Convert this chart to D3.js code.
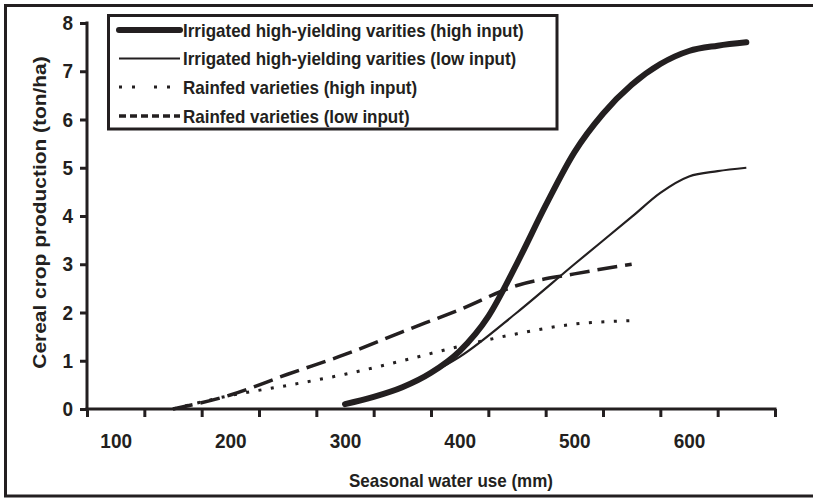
<!DOCTYPE html>
<html>
<head>
<meta charset="utf-8">
<script src="https://cdn.jsdelivr.net/npm/d3@7"></script>
<style>
  html, body { margin: 0; padding: 0; background: #fff; }
  svg { display: block; }
  text { font-family: "Liberation Sans", Arial, sans-serif; font-weight: bold; fill: #231f20; }
</style>
</head>
<body>
<svg id="chart" width="813" height="498"></svg>
<script>
// ---- data ----
const seriesNames = [
  "Irrigated high-yielding varities (high input)",
  "Irrigated high-yielding varities (low input)",
  "Rainfed varieties (high input)",
  "Rainfed varieties (low input)"
];
const irrigatedHighX = [300, 325, 350, 375, 400, 425, 450, 475, 500, 525, 550, 575, 600, 625, 650];
const irrigatedHighY = [0.1, 0.25, 0.45, 0.75, 1.2, 1.92, 3.02, 4.22, 5.32, 6.12, 6.72, 7.15, 7.42, 7.53, 7.6];
const irrigatedLowX = [300, 325, 350, 375, 400, 450, 500, 550, 575, 600, 625, 650];
const irrigatedLowY = [0.1, 0.25, 0.45, 0.74, 1.08, 2.0, 3.0, 3.98, 4.48, 4.82, 4.93, 5.0];
const rainfedHighX = [150, 200, 250, 300, 350, 400, 450, 500, 550];
const rainfedHighY = [0, 0.28, 0.49, 0.72, 1.0, 1.3, 1.56, 1.76, 1.83];
const rainfedLowX = [150, 200, 250, 300, 350, 400, 450, 500, 550];
const rainfedLowY = [0, 0.29, 0.72, 1.13, 1.6, 2.06, 2.56, 2.8, 3.0];
const xTickMarks = d3.range(75, 676, 50);
const xTickLabels = [100, 200, 300, 400, 500, 600];
const yTicks = [0, 1, 2, 3, 4, 5, 6, 7, 8];
const xTitle = "Seasonal water use (mm)";
const yTitle = "Cereal crop production (ton/ha)";

// ---- drawing ----
const ink = "#231f20";
const stretch = 1.1;
const svg = d3.select("#chart");

// outer frame (right edge runs off the canvas)
svg.append("rect")
  .attr("x", 5.5).attr("y", 5.5).attr("width", 820).attr("height", 490.5)
  .attr("fill", "none").attr("stroke", ink).attr("stroke-width", 3);

const x = d3.scaleLinear().domain([75, 675]).range([87, 775]);
const y = d3.scaleLinear().domain([0, 8]).range([409, 23]);

const series = [
  { xs: irrigatedHighX, ys: irrigatedHighY, w: 6, dash: null, legendDash: null, cap: "round" },
  { xs: irrigatedLowX, ys: irrigatedLowY, w: 2.2, dash: null, legendDash: null, cap: "butt" },
  { xs: rainfedHighX, ys: rainfedHighY, w: 3, dash: "3,9.5", legendDash: "3,10,3,19", cap: "butt" },
  { xs: rainfedLowX, ys: rainfedLowY, w: 3.5, dash: "20,8", legendDash: "7,4", cap: "butt" }
];

const line = d3.line()
  .x(d => x(d[0])).y(d => y(d[1]))
  .curve(d3.curveMonotoneX);

[3, 2, 1, 0].forEach(i => {
  const s = series[i];
  const pts = s.xs.map((v, k) => [v, s.ys[k]]);
  svg.append("path")
    .attr("d", line(pts))
    .attr("fill", "none")
    .attr("stroke", ink)
    .attr("stroke-width", s.w)
    .attr("stroke-linecap", s.cap)
    .attr("stroke-linejoin", "round")
    .attr("stroke-dasharray", s.dash);
});

function stretchText(sel) {
  sel.each(function () {
    const t = d3.select(this);
    const yy = +t.attr("y") || 0;
    t.attr("y", 0).attr("transform", `translate(0,${yy}) scale(1,${stretch})`);
  });
}

// y axis
const yAxis = svg.append("g")
  .attr("transform", "translate(87,0)")
  .call(d3.axisLeft(y).tickValues(yTicks).tickSize(7).tickPadding(7).tickFormat(d3.format("d")));
yAxis.select(".domain").attr("d", `M0,${y(8) - 1.5}V${y(0) + 1.5}`).attr("stroke", ink).attr("stroke-width", 3);
yAxis.selectAll(".tick line").attr("stroke", ink).attr("stroke-width", 3);
yAxis.selectAll(".tick text").attr("font-size", 19).attr("font-family", "Liberation Sans, Arial, sans-serif").attr("font-weight", "bold").attr("fill", ink).call(stretchText);

// x axis tick marks
const xAxis = svg.append("g")
  .attr("transform", "translate(0,409)")
  .call(d3.axisBottom(x).tickValues(xTickMarks).tickSize(8).tickFormat(""));
xAxis.select(".domain").attr("d", `M${x(75) - 1.5},0H${x(675) + 1.5}`).attr("stroke", ink).attr("stroke-width", 3);
xAxis.selectAll(".tick line").attr("stroke", ink).attr("stroke-width", 3);

// x axis labels (between tick marks)
const xLab = svg.append("g")
  .attr("transform", "translate(0,409)")
  .call(d3.axisBottom(x).tickValues(xTickLabels).tickSize(0).tickPadding(24).tickFormat(d3.format("d")));
xLab.select(".domain").remove();
xLab.selectAll(".tick text").attr("font-size", 19).attr("font-family", "Liberation Sans, Arial, sans-serif").attr("font-weight", "bold").attr("fill", ink).call(stretchText);

// axis titles
svg.append("text")
  .attr("transform", `translate(451,486.5) scale(1,${stretch})`)
  .attr("text-anchor", "middle")
  .attr("font-size", 17)
  .text(xTitle);

svg.append("text")
  .attr("transform", `translate(46,212.5) rotate(-90) scale(${stretch},1)`)
  .attr("text-anchor", "middle")
  .attr("font-size", 19)
  .text(yTitle);

// legend
svg.append("rect")
  .attr("x", 108.5).attr("y", 15.5).attr("width", 448.5).attr("height", 113.5)
  .attr("fill", "#fff").attr("stroke", ink).attr("stroke-width", 3);

const rowY = [30, 58.5, 87, 116];
series.forEach((s, i) => {
  svg.append("line")
    .attr("x1", 119).attr("x2", 180)
    .attr("y1", rowY[i]).attr("y2", rowY[i])
    .attr("stroke", ink)
    .attr("stroke-width", s.w)
    .attr("stroke-linecap", s.cap)
    .attr("stroke-dasharray", s.legendDash);
  svg.append("text")
    .attr("transform", `translate(183,${rowY[i]}) scale(1,${stretch})`)
    .attr("dy", "0.36em")
    .attr("font-size", 17)
    .text(seriesNames[i]);
});
</script>
</body>
</html>
